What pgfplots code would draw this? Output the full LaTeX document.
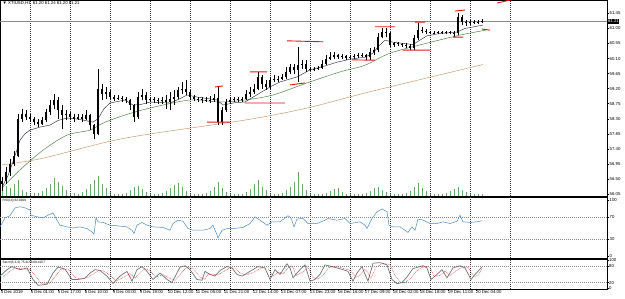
\documentclass[border=0pt]{standalone}
\usepackage{pgfplots}
\usepackage{pgfplotstable}
\pgfplotsset{compat=1.18}
\usepackage{fontspec}
\setmainfont{Liberation Sans}
\definecolor{mafast}{RGB}{45,45,70}
\definecolor{magreen}{RGB}{85,135,75}
\definecolor{mabrown}{RGB}{205,155,115}
\definecolor{volgreen}{RGB}{105,168,105}
\definecolor{rsiblue}{RGB}{80,140,190}
\definecolor{lvlred}{RGB}{225,20,20}
\newcommand\tk{\fontsize{4.3}{5}\selectfont}
\newcommand\tks{\fontsize{3.2}{4}\selectfont}

\pgfplotstableread{
x l h o c
2 56.15 56.55 56.35 56.45
6 56.35 56.85 56.45 56.70
10 56.60 57.10 56.70 56.95
14 56.90 57.35 56.95 57.20
18 57.15 58.45 57.20 58.30
22 58.20 58.60 58.30 58.45
26 58.25 58.55 58.45 58.35
30 58.20 58.45 58.35 58.30
34 58.10 58.35 58.30 58.20
38 58.05 58.30 58.20 58.15
42 58.10 58.35 58.15 58.25
46 58.20 58.60 58.25 58.50
50 58.40 58.85 58.50 58.70
54 58.60 59.05 58.70 58.85
58 58.30 58.95 58.85 58.55
62 58.00 58.70 58.55 58.40
66 58.25 58.55 58.40 58.45
70 58.25 58.50 58.45 58.35
74 58.20 58.45 58.35 58.30
78 58.25 58.45 58.30 58.35
82 58.20 58.45 58.35 58.30
86 58.25 58.55 58.30 58.40
90 57.95 58.45 58.40 58.10
94 57.70 58.15 58.10 57.85
98 57.80 59.80 57.85 59.20
102 58.85 59.35 59.20 59.05
106 58.90 59.25 59.05 59.10
110 58.85 59.15 59.10 58.95
114 58.82 59.00 58.95 58.90
118 58.85 59.00 58.90 58.92
122 58.80 58.98 58.92 58.88
126 58.78 58.95 58.88 58.85
130 58.55 58.90 58.85 58.70
134 58.20 58.75 58.70 58.35
138 58.30 59.10 58.35 58.95
142 58.85 59.20 58.95 59.00
146 58.75 59.10 59.00 58.85
150 58.80 58.95 58.85 58.88
154 58.78 58.95 58.88 58.85
158 58.75 58.92 58.85 58.82
162 58.75 58.95 58.82 58.85
166 58.60 59.00 58.85 58.80
170 58.55 59.10 58.80 58.90
174 58.70 59.15 58.90 58.95
178 58.90 59.25 58.95 59.15
182 59.05 59.40 59.15 59.20
186 59.00 59.45 59.20 59.10
190 58.85 59.15 59.10 58.95
194 58.82 59.00 58.95 58.90
198 58.80 58.95 58.90 58.88
202 58.78 58.95 58.88 58.85
206 58.80 58.95 58.85 58.87
210 58.78 58.97 58.87 58.85
214 58.80 59.05 58.85 58.92
218 58.10 59.25 58.92 58.20
222 58.10 58.65 58.20 58.55
226 58.50 58.90 58.55 58.80
230 58.75 58.95 58.80 58.85
234 58.80 58.95 58.85 58.88
238 58.80 58.95 58.88 58.85
242 58.80 58.95 58.85 58.88
246 58.85 59.15 58.88 59.05
250 58.95 59.25 59.05 59.10
254 59.05 59.35 59.10 59.20
258 59.15 59.70 59.20 59.55
262 59.20 59.60 59.55 59.35
266 59.15 59.45 59.35 59.25
270 59.20 59.55 59.25 59.45
274 59.40 59.60 59.45 59.50
278 59.40 59.58 59.50 59.48
282 59.45 59.65 59.48 59.55
286 59.50 59.85 59.55 59.70
290 59.65 59.95 59.70 59.85
294 59.65 59.95 59.85 59.75
298 59.40 60.45 59.75 59.90
302 59.80 60.05 59.90 59.95
306 59.70 60.05 59.95 59.80
310 59.72 59.85 59.80 59.78
314 59.74 59.85 59.78 59.80
318 59.76 59.88 59.80 59.82
322 59.78 60.05 59.82 59.95
326 59.90 60.20 59.95 60.10
330 60.05 60.30 60.10 60.15
334 60.08 60.30 60.15 60.20
338 60.08 60.25 60.20 60.15
342 60.10 60.25 60.15 60.18
346 60.05 60.22 60.18 60.12
350 60.08 60.20 60.12 60.15
354 60.10 60.24 60.15 60.18
358 60.12 60.26 60.18 60.20
362 60.15 60.28 60.20 60.22
366 60.05 60.25 60.22 60.15
370 60.05 60.40 60.15 60.30
374 60.20 60.45 60.30 60.35
378 60.30 60.85 60.35 60.75
382 60.70 61.00 60.75 60.90
386 60.75 61.00 60.90 60.85
390 60.45 60.90 60.85 60.50
394 60.45 60.60 60.50 60.55
398 60.46 60.58 60.55 60.52
402 60.44 60.56 60.52 60.50
406 60.40 60.55 60.50 60.48
410 60.35 60.52 60.48 60.40
414 60.35 60.80 60.40 60.70
418 60.65 61.15 60.70 60.95
422 60.85 61.05 60.95 60.92
426 60.82 60.98 60.92 60.88
430 60.83 60.92 60.88 60.87
434 60.82 60.92 60.87 60.86
438 60.82 60.92 60.86 60.88
442 60.82 60.92 60.88 60.86
446 60.82 60.93 60.86 60.88
450 60.82 60.92 60.88 60.87
454 60.75 60.92 60.87 60.85
458 60.80 61.45 60.85 61.35
462 61.10 61.40 61.35 61.20
466 61.08 61.25 61.20 61.15
470 61.10 61.25 61.15 61.18
474 61.12 61.25 61.18 61.20
478 61.12 61.24 61.20 61.18
482 61.15 61.28 61.18 61.21
}\bars

\pgfplotsset{
  pane/.style={
    scale only axis, width=607pt, xmin=0, xmax=607,
    axis line style={black, line width=0.5pt},
    tick style={black, line width=0.4pt},
    tick align=outside, major tick length=2pt,
    ytick pos=right, yticklabel pos=right,
    yticklabel style={font=\tk, anchor=west, xshift=-0.3pt, inner sep=0.8pt},
    /pgf/number format/assume math mode=true,
    xtick=\empty,
    extra x ticks={30,70,...,510},
    extra x tick labels={},
    extra x tick style={grid=major, major tick length=0pt,
      major grid style={black!80, line width=0.3pt, dash pattern=on 0.8pt off 1.2pt}},
    clip mode=individual,
  }
}

\begin{document}
\begin{tikzpicture}[x=1pt,y=1pt]

% volumes
\begin{axis}[name=vol, scale only axis, width=607pt, height=196pt, at={(0,298)}, anchor=north west,
  xmin=0, xmax=607, ymin=0, ymax=196, axis lines=none]
\addplot[ycomb, volgreen, line width=0.8pt] coordinates {
(2,14)(6,10)(10,8)(14,12)(18,16)(22,6)(26,4)(30,3)(34,3)(38,3)(42,5)(46,8)(50,12)(54,18)(58,14)(62,10)(66,6)(70,3)(74,3)(78,2)(82,4)(86,7)(90,12)(94,16)(98,20)(102,12)(106,8)(110,4)(114,2)(118,2)(122,2)(126,3)(130,6)(134,9)(138,10)(142,7)(146,4)(150,2)(154,2)(158,2)(162,3)(166,5)(170,8)(174,11)(178,13)(182,9)(186,5)(190,3)(194,2)(198,2)(202,2)(206,3)(210,5)(214,9)(218,14)(222,8)(226,4)(230,2)(234,2)(238,2)(242,2)(246,4)(250,7)(254,12)(258,16)(262,9)(266,6)(270,3)(274,2)(278,2)(282,3)(286,6)(290,9)(294,14)(298,24)(302,12)(306,6)(310,3)(314,2)(318,2)(322,2)(326,3)(330,5)(334,7)(338,8)(342,4)(346,2)(350,2)(354,2)(358,2)(362,2)(366,3)(370,5)(374,8)(378,9)(382,6)(386,4)(390,2)(394,2)(398,2)(402,2)(406,3)(410,5)(414,9)(418,13)(422,8)(426,5)(430,3)(434,2)(438,2)(442,2)(446,3)(450,5)(454,7)(458,9)(462,6)(466,4)(470,3)(474,2)(478,2)(482,2)};
\end{axis}

% main price pane
\begin{axis}[pane, name=main, at={(vol.north west)}, anchor=north west, height=196pt,
  ymin=55.99, ymax=61.85,
  ytick={56.05,56.50,56.95,57.40,57.85,58.30,58.75,59.20,59.65,60.10,60.55,61.00,61.45},
  y tick label style={/pgf/number format/fixed, /pgf/number format/fixed zerofill, /pgf/number format/precision=2}]
\addplot[black!45, line width=0.35pt] coordinates {(0,61.21) (607,61.21)};
\addplot[mabrown, line width=0.5pt, smooth] coordinates {
(2,56.92)(43,57.12)(125,57.72)(245,58.26)(307,58.62)(365,59.07)(427,59.52)(483,59.92)};
\addplot[magreen, line width=0.5pt, smooth] coordinates {
(2,56.23)(20,56.77)(43,57.36)(67,57.81)(90,57.96)(103,58.17)(125,58.41)(150,58.62)(190,58.86)(220,58.80)(245,58.86)(273,59.01)(307,59.37)(340,59.70)(365,59.90)(390,60.26)(427,60.56)(460,60.80)(486,60.95)};
\addplot[mafast, line width=0.45pt] coordinates {
(2,56.25)(8,56.60)(14,57.10)(20,57.66)(25,57.85)(30,57.96)(40,58.05)(50,58.11)(58,58.25)(67,58.32)(75,58.30)(83,58.26)(93,58.20)(98,58.30)(104,58.60)(110,58.77)(125,58.86)(133,58.71)(140,58.72)(150,58.80)(170,58.77)(180,58.90)(187,59.01)(197,58.95)(217,58.86)(223,58.71)(235,58.78)(245,58.80)(260,59.07)(270,59.25)(280,59.40)(297,59.55)(310,59.76)(325,59.88)(337,59.99)(350,60.08)(365,60.14)(373,60.26)(378,60.45)(385,60.65)(393,60.59)(403,60.55)(413,60.52)(420,60.65)(427,60.78)(440,60.85)(457,60.89)(465,61.00)(483,61.10)};
\addplot[black, line width=0.4pt, quiver={u=0, v=\thisrow{h}-\thisrow{l}}] table[x=x, y=l] {\bars};
\addplot[black, line width=1.1pt, quiver={u=0, v=\thisrow{c}-\thisrow{o}}] table[x=x, y=o] {\bars};
\addplot[lvlred, line width=0.9pt, unbounded coords=jump] coordinates {
(207,58.20)(230,58.20)(230,nan)
(215,59.25)(223,59.28)(223,nan)
(250,59.70)(267,59.70)(267,nan)
(245,58.77)(285,58.77)(285,nan)
(287,60.63)(323,60.60)(323,nan)
(290,59.31)(305,59.37)(305,nan)
(352,60.06)(375,60.05)(375,nan)
(375,61.05)(395,61.05)(395,nan)
(403,60.35)(430,60.35)(430,nan)
(415,61.19)(425,61.19)(425,nan)
(453,60.74)(463,60.74)(463,nan)
(455,61.52)(465,61.55)(465,nan)
(482,60.98)(490,60.95)(490,nan)
(497,61.76)(512,61.86)};
\node[fill=black, text=white, font=\tk, anchor=west, inner sep=0.6pt] at (axis cs:607.3,61.21) {61.21};
\end{axis}

% RSI pane
\begin{axis}[pane, name=rsi, at={(vol.south west)}, anchor=north west, yshift=-1pt, height=61pt,
  ymin=-3.6, ymax=105.4, ytick={0,100},
  extra y ticks={30,70},
  extra y tick style={grid=major, major grid style={black!45, line width=0.3pt, dash pattern=on 0.8pt off 1.2pt}}]
\addplot[rsiblue, line width=0.5pt] coordinates {
(0,52)(5,68)(10,72)(15,86)(20,88)(25,86)(30,82)(31,73)(37,70)(43,68)(48,73)(53,77)(57,64)(60,55)(67,52)(73,50)(80,52)(87,49)(92,43)(94,39)(96,68)(98,61)(103,60)(110,55)(117,54)(127,52)(132,46)(134,40)(137,55)(142,60)(147,55)(153,52)(163,51)(170,46)(173,58)(178,64)(183,62)(188,49)(193,46)(203,46)(210,49)(213,55)(217,38)(218,32)(222,46)(227,49)(233,49)(243,51)(250,58)(255,70)(260,64)(267,55)(272,61)(280,61)(288,72)(291,68)(294,52)(297,66)(303,67)(308,58)(317,58)(325,64)(328,67)(337,64)(345,67)(350,58)(360,61)(365,55)(367,49)(372,67)(377,79)(382,84)(387,79)(389,55)(393,52)(400,52)(405,46)(408,42)(412,52)(415,46)(418,66)(423,64)(430,58)(437,58)(443,61)(450,58)(457,62)(460,73)(463,61)(470,60)(477,61)(482,63)};
\end{axis}

% Stochastic pane
\begin{axis}[pane, name=sto, at={(vol.south west)}, anchor=north west, yshift=-63pt, height=30pt,
  ymin=-3, ymax=104, ytick={0,100},
  extra y ticks={20,80},
  extra y tick style={grid=major, major grid style={black!45, line width=0.3pt, dash pattern=on 0.8pt off 1.2pt}},
  xtick={1,31,58,85,113,140,168,196,224,253,281,310,338,365,393,420,448,476},
  xticklabels={4 Dec 2019,5 Dec 01:00,5 Dec 17:00,6 Dec 10:00,9 Dec 03:00,9 Dec 19:00,10 Dec 12:00,11 Dec 05:00,11 Dec 21:00,12 Dec 14:00,13 Dec 07:00,13 Dec 23:00,16 Dec 16:00,17 Dec 09:00,18 Dec 02:00,18 Dec 18:00,19 Dec 11:00,20 Dec 04:00},
  xtick pos=bottom, major tick length=1.5pt,
  xticklabel style={font=\tk, anchor=north west, inner sep=0.5pt, xshift=-0.8pt, yshift=0.3pt}]
\addplot[black!55, line width=0.7pt] coordinates {
(0,43)(7,66)(12,77)(20,66)(27,72)(33,31)(38,10)(47,14)(53,54)(58,75)(65,68)(72,31)(78,31)(85,36)(90,54)(95,66)(100,63)(107,43)(113,17)(120,43)(127,60)(132,25)(137,66)(142,77)(147,60)(153,31)(160,54)(167,31)(172,20)(180,75)(185,80)(190,66)(197,31)(202,28)(205,60)(210,49)(215,43)(220,63)(227,77)(232,72)(237,49)(242,43)(250,60)(258,77)(265,72)(270,31)(275,66)(280,49)(287,87)(290,72)(293,37)(300,66)(305,83)(310,25)(315,31)(320,49)(325,83)(332,77)(337,72)(343,66)(348,60)(353,25)(357,54)(362,77)(365,49)(368,25)(373,89)(380,91)(387,83)(392,31)(397,16)(402,20)(407,40)(413,70)(418,75)(423,80)(427,72)(431,31)(437,49)(442,66)(447,37)(453,72)(460,80)(465,72)(471,31)(475,49)(482,75)};
\addplot[lvlred, line width=0.35pt, dash pattern=on 0.8pt off 0.8pt] coordinates {
(3,40)(10,60)(15,72)(23,68)(30,68)(36,40)(41,18)(50,18)(56,45)(61,68)(68,68)(75,38)(81,32)(88,38)(93,50)(98,62)(103,62)(110,47)(116,25)(123,38)(130,52)(135,35)(140,55)(145,70)(150,62)(156,40)(163,48)(170,35)(175,28)(183,62)(188,76)(193,70)(200,40)(205,32)(208,50)(213,50)(218,47)(223,58)(230,72)(235,72)(240,55)(245,47)(253,55)(261,72)(268,72)(273,42)(278,58)(283,52)(290,78)(293,74)(296,45)(303,58)(308,76)(313,38)(318,32)(323,45)(328,72)(335,78)(340,74)(346,68)(351,62)(356,38)(360,46)(365,68)(368,55)(371,35)(376,75)(383,88)(390,85)(395,45)(400,22)(405,20)(410,32)(416,60)(421,72)(426,78)(430,74)(434,42)(440,45)(445,60)(450,45)(456,62)(463,76)(468,74)(474,42)(478,45)(482,69)};
\end{axis}

\node[anchor=north west, font=\tk, inner sep=0] at (2.5,296.5) {▼ XTIUSD,H1\ \ 61.20 61.24 61.20 61.21};
\node[anchor=north west, font=\tks, inner sep=0] at (2.5,99) {RSI(14) 62.8929};
\node[anchor=north west, font=\tks, inner sep=0] at (2.5,37.5) {Stoch(5,3,3) 75.4158 69.4157};
\pgfresetboundingbox
\useasboundingbox (0,0) rectangle (625,298);
\end{tikzpicture}
\end{document}
